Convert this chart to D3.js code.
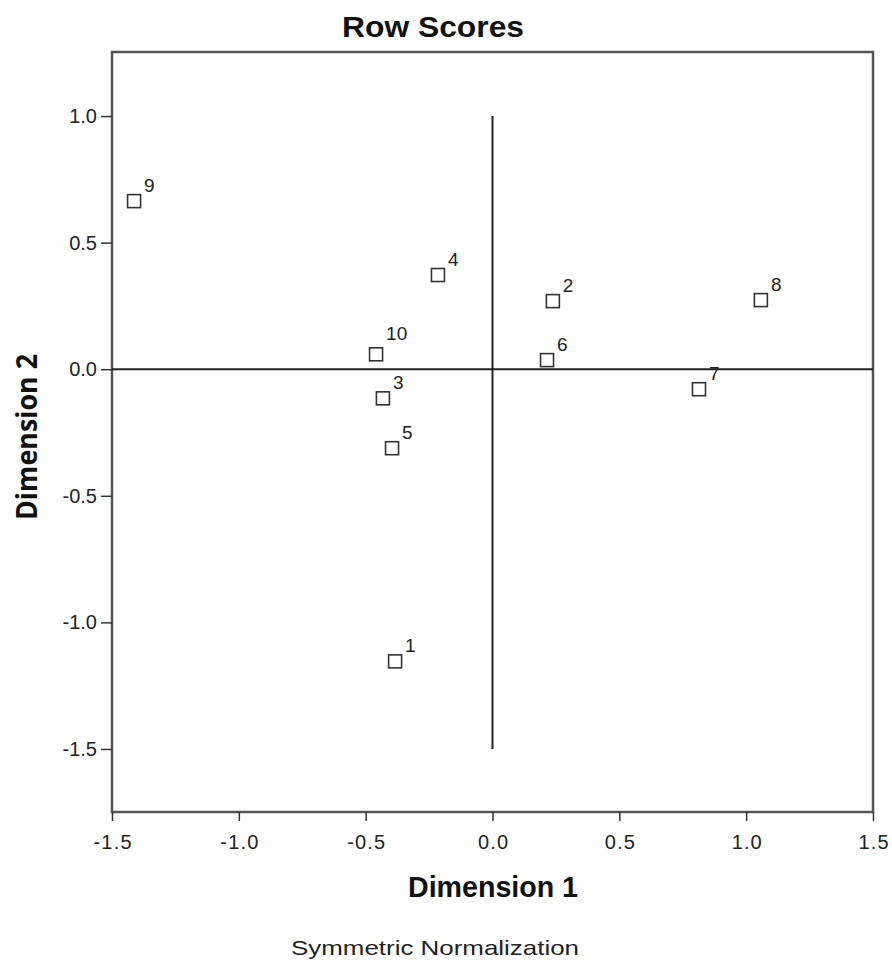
<!DOCTYPE html>
<html>
<head>
<meta charset="utf-8">
<script src="https://cdn.jsdelivr.net/npm/d3@7"></script>
<style>
  body { margin: 0; background: #fff; }
  svg { display: block; font-family: Arial, "Liberation Sans", sans-serif; }
</style>
</head>
<body>
<svg id="chart" width="892" height="967"></svg>
<script>
// row scores
const labels = ["1", "2", "3", "4", "5", "6", "7", "8", "9", "10"];
const dim1 = [-0.384, 0.238, -0.432, -0.215, -0.396, 0.215, 0.814, 1.058, -1.413, -0.459];
const dim2 = [-1.154, 0.269, -0.115, 0.372, -0.312, 0.036, -0.079, 0.273, 0.664, 0.059];
const xTicks = [-1.5, -1.0, -0.5, 0.0, 0.5, 1.0, 1.5];
const yTicks = [1.0, 0.5, 0.0, -0.5, -1.0, -1.5];

const svg = d3.select("#chart");
const plotLeft = 112, plotRight = 873, plotTop = 52, plotBottom = 812;

const x = d3.scaleLinear().domain([-1.5, 1.5]).range([plotLeft, plotRight]);
const y = d3.scaleLinear().domain([-1.749, 1.253]).range([plotBottom, plotTop]);

const points = labels.map((l, i) => ({ label: l, d1: dim1[i], d2: dim2[i] }));
const fmt = d => d.toFixed(1);

// title
svg.append("text")
  .attr("x", 433).attr("y", 37)
  .attr("text-anchor", "middle")
  .attr("textLength", 182).attr("lengthAdjust", "spacingAndGlyphs")
  .style("font-size", "29px").style("font-weight", "bold").attr("fill", "#111")
  .text("Row Scores");

// frame
svg.append("rect")
  .attr("x", plotLeft).attr("y", plotTop)
  .attr("width", plotRight - plotLeft).attr("height", plotBottom - plotTop)
  .attr("fill", "none").attr("stroke", "#555").attr("stroke-width", 2.5);

// axes
const xAxis = svg.append("g")
  .attr("transform", `translate(0,${plotBottom})`)
  .call(d3.axisBottom(x).tickValues(xTicks).tickFormat(fmt).tickSize(9).tickPadding(14));
const yAxis = svg.append("g")
  .attr("transform", `translate(${plotLeft},0)`)
  .call(d3.axisLeft(y).tickValues(yTicks).tickFormat(fmt).tickSize(11).tickPadding(4));

[xAxis, yAxis].forEach(g => {
  g.select(".domain").remove();
  g.selectAll("line").attr("stroke", "#333").attr("stroke-width", 1.5);
  g.selectAll("text").style("font-size", "20px").attr("fill", "#222")
    .style("font-family", "Arial, 'Liberation Sans', sans-serif");
});
xAxis.selectAll("text").attr("textLength", 38).attr("lengthAdjust", "spacing")
  .filter(d => d >= 0).attr("textLength", 30);

// reference lines
svg.append("line")
  .attr("x1", plotLeft).attr("x2", plotRight)
  .attr("y1", y(0)).attr("y2", y(0))
  .attr("stroke", "#222").attr("stroke-width", 2);
svg.append("line")
  .attr("x1", x(0)).attr("x2", x(0))
  .attr("y1", y(1.0)).attr("y2", y(-1.5))
  .attr("stroke", "#222").attr("stroke-width", 2);

// points
const sz = 13;
const pts = svg.append("g").selectAll("g").data(points).enter().append("g")
  .attr("transform", d => `translate(${x(d.d1)},${y(d.d2)})`);
pts.append("rect")
  .attr("x", -sz / 2).attr("y", -sz / 2)
  .attr("width", sz).attr("height", sz)
  .attr("fill", "none").attr("stroke", "#333").attr("stroke-width", 1.6);
pts.append("text")
  .attr("x", 10).attr("y", d => d.label === "10" ? -14 : -9)
  .style("font-size", "19px").attr("fill", "#222")
  .text(d => d.label);

// axis titles
svg.append("text")
  .attr("x", 493).attr("y", 897)
  .attr("text-anchor", "middle")
  .attr("textLength", 170).attr("lengthAdjust", "spacingAndGlyphs")
  .style("font-size", "29px").style("font-weight", "bold").attr("fill", "#111")
  .text("Dimension 1");
svg.append("text")
  .attr("transform", "translate(37,437) rotate(-90)")
  .attr("text-anchor", "middle")
  .attr("textLength", 166).attr("lengthAdjust", "spacingAndGlyphs")
  .style("font-size", "28px").style("font-weight", "bold").attr("fill", "#111")
  .style("font-family", "'Open Sans', Arial, sans-serif")
  .text("Dimension 2");

svg.append("text")
  .attr("x", 435).attr("y", 955)
  .attr("text-anchor", "middle")
  .attr("textLength", 288).attr("lengthAdjust", "spacingAndGlyphs")
  .style("font-size", "21px").attr("fill", "#222")
  .text("Symmetric Normalization");
</script>
</body>
</html>
